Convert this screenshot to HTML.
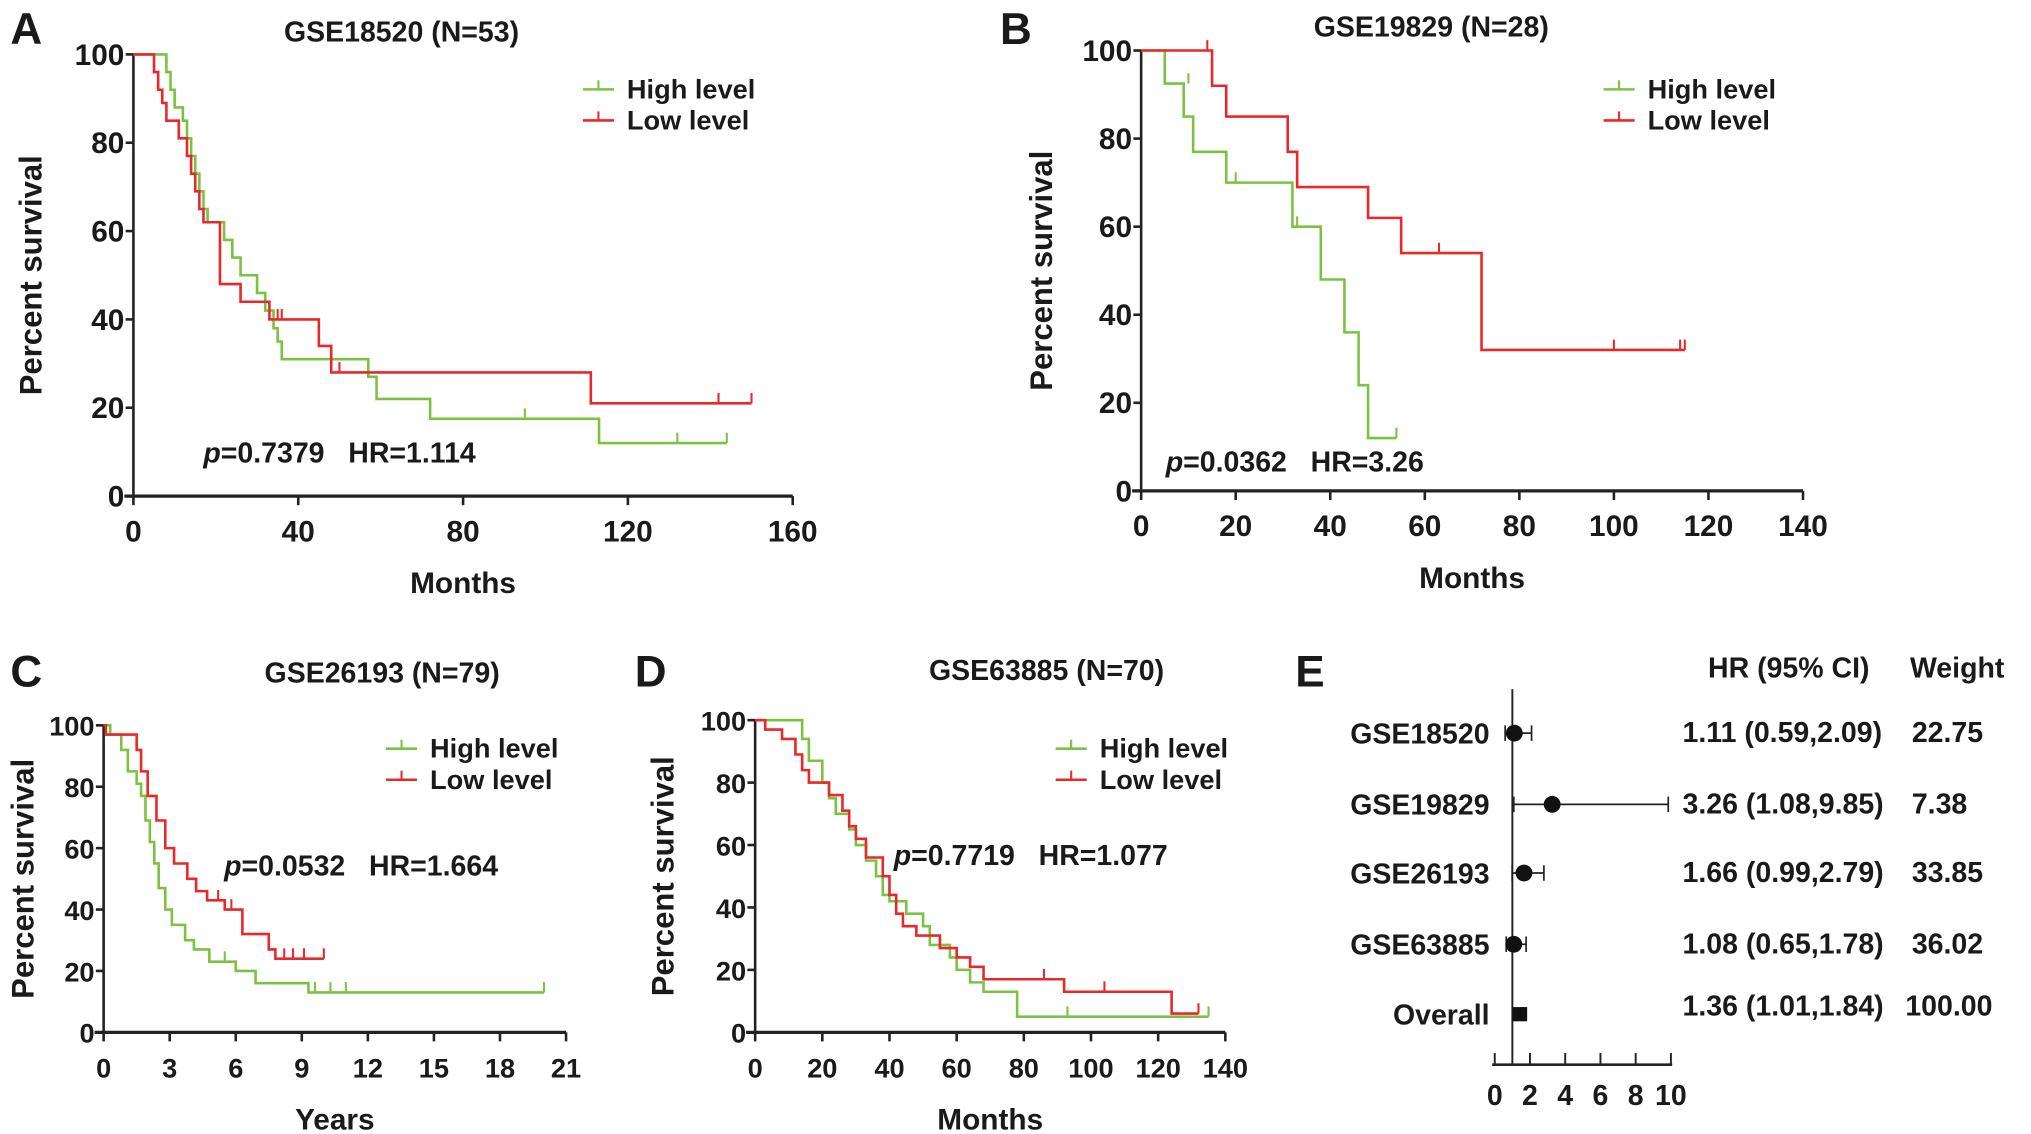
<!DOCTYPE html>
<html><head><meta charset="utf-8"><style>
html,body{margin:0;padding:0;background:#fff}
svg{display:block}
text{font-family:"Liberation Sans",Arial,sans-serif;font-weight:bold;fill:#1a1a1a}
</style></head><body>
<svg id="fig" xmlns="http://www.w3.org/2000/svg" width="2031" height="1134" viewBox="0 0 1568 875.5"></svg>
<script>
// ---- Panel A data (months) ----
const aHighT=[0,8,9,10,12,13,14,15,16,17,18,22,24,26,30,32,34,35,36,57,59,72,113];
const aHighS=[100,96,92,88,85,81,77,73,69,65,62,58,54,50,46,42,38,35,31,27,22,17.5,12];
const aHighCens=[[95,17.5],[132,12],[144,12]];const aHighEnd=144;
const aLowT=[0,5,6,7,8,11,13,14,15,16,17,21,26,33,45,48,111];
const aLowS=[100,96,92,89,85,81,77,73,69,65,62,48,44,40,34,28,21];
const aLowCens=[[35,40],[36,40],[50,28],[142,21],[150,21]];const aLowEnd=150;
// ---- Panel B data ----
const bHighT=[0,5,9,11,18,32,38,43,46,48];
const bHighS=[100,92.5,85,77,70,60,48,36,24,12];
const bHighCens=[[10,92.5],[20,70],[33,60],[54,12]];const bHighEnd=54;
const bLowT=[0,15,18,31,33,48,55,72];
const bLowS=[100,92,85,77,69,62,54,32];
const bLowCens=[[14,100],[63,54],[100,32],[114,32],[115,32]];const bLowEnd=115;
// ---- Panel C data (years) ----
const cHighT=[0,0.3,0.8,1.1,1.5,1.7,1.9,2.1,2.3,2.5,2.8,3.1,3.7,4.1,4.8,6,6.9,9.3];
const cHighS=[100,97,92,85,81,77,69,62,55,47,40,35,30,27,23,20,16,13];
const cHighCens=[[5.5,23],[9.6,13],[10.3,13],[11,13],[20,13]];const cHighEnd=20;
const cLowT=[0,0.1,1.5,1.7,2,2.4,2.8,3.2,3.8,4.2,4.7,5.5,6.3,7.5,7.8];
const cLowS=[100,97,92,85,77,69,60,55,50,46,43,40,32,27,24];
const cLowCens=[[5.2,43],[5.8,40],[8.2,24],[8.6,24],[9.1,24],[10,24]];const cLowEnd=10;
// ---- Panel D data ----
const dHighT=[0,13,14,16,20,22,24,28,30,33,36,38,40,45,50,52,58,60,64,68,78];
const dHighS=[100,100,94,87,80,75,70,65,60,55,50,44,42,38,34,28,24,20,16,13,5];
const dHighCens=[[93,5],[135,5]];const dHighEnd=135;
const dLowT=[0,3,8,12,14,16,22,26,28,30,33,38,40,42,44,48,55,60,64,68,92,124];
const dLowS=[100,97,94,89,84,80,76,71,66,62,56,50,44,38,34,31,27,24,21,17,13,6];
const dLowCens=[[86,17],[104,13],[132,6]];const dLowEnd=132;
// ---- Panel E forest data ----
const fNames=["GSE18520","GSE19829","GSE26193","GSE63885","Overall"];
const fHR=[1.11,3.26,1.66,1.08,1.36];
const fLo=[0.59,1.08,0.99,0.65,1.01];
const fHi=[2.09,9.85,2.79,1.78,1.84];
const fWeight=["22.75","7.38","33.85","36.02","100.00"];
const fTicks=[0,2,4,6,8,10];

const svg=document.getElementById('fig');
const NS="http://www.w3.org/2000/svg";
function mk(tag,attrs,parent){const e=document.createElementNS(NS,tag);for(const k in attrs)e.setAttribute(k,attrs[k]);(parent||svg).appendChild(e);return e;}
function txt(s,x,y,size,anchor,parent){const t=mk('text',{x:x,y:y,'font-size':size,'text-anchor':anchor||'start'},parent);t.textContent=s;return t;}

function panel(cfg){
  const g=mk('g',{});
  
  
  const X=v=>cfg.x0+(v-0)/cfg.xMax*(cfg.x1-cfg.x0);
  const Y=v=>cfg.y0-(v/100)*(cfg.y0-cfg.y100);
  const L=txt(cfg.letter,cfg.letterX,cfg.letterY,34,'start',g);
  
  const T=txt(cfg.title,cfg.titleX,cfg.titleY,22,'middle',g);
  
  const ya=mk('line',{x1:cfg.x0,y1:cfg.y100,x2:cfg.x0,y2:cfg.y0,stroke:'#222','stroke-width':2},g);
  
  const xa=mk('line',{x1:cfg.x0-7,y1:cfg.y0,x2:cfg.x1,y2:cfg.y0,stroke:'#222','stroke-width':2.5},g);
  
  [0,20,40,60,80,100].forEach(v=>{
    mk('line',{x1:cfg.x0-6,y1:Y(v),x2:cfg.x0,y2:Y(v),stroke:'#222','stroke-width':2},g);
    const t=txt(String(v),cfg.x0-7,Y(v)+8,cfg.tickSize,'end',g);
    
  });
  cfg.xticks.forEach(v=>{
    mk('line',{x1:X(v),y1:cfg.y0,x2:X(v),y2:cfg.y0+7,stroke:'#222','stroke-width':2},g);
    const t=txt(String(v),X(v),cfg.y0+35,cfg.tickSize,'middle',g);
    
  });
  const xt=txt(cfg.xlabel,(cfg.x0+cfg.x1)/2,cfg.y0+75,23,'middle',g);
  
  const yt=txt('Percent survival',0,0,24,'middle',g);
  yt.setAttribute('transform','translate('+cfg.ylabX+','+((cfg.y0+cfg.y100)/2)+') rotate(-90)');
  
  cfg.series.forEach(s=>{
    let d='M'+X(s.t[0])+','+Y(s.s[0]);
    for(let i=1;i<s.t.length;i++){d+=' H'+X(s.t[i])+' V'+Y(s.s[i]);}
    d+=' H'+X(s.end);
    const p=mk('path',{d:d,fill:'none',stroke:s.color,'stroke-width':2},g);
    
    s.cens.forEach(c=>{
      const m=mk('line',{x1:X(c[0]),y1:Y(c[1]),x2:X(c[0]),y2:Y(c[1])-8,stroke:s.color,'stroke-width':1.6},g);
      
    });
  });
  cfg.series.forEach((s,i)=>{
    const ly=cfg.legY+i*24;
    const e=mk('g',{},g);
    
    mk('line',{x1:cfg.legX,y1:ly,x2:cfg.legX+24,y2:ly,stroke:s.color,'stroke-width':2},e);
    mk('line',{x1:cfg.legX+12,y1:ly,x2:cfg.legX+12,y2:ly-7,stroke:s.color,'stroke-width':1.6},e);
    txt(s.label,cfg.legX+34,ly+7,21,'start',e);
  });
  const st=mk('text',{x:cfg.pX,y:cfg.pY,'font-size':22},g);
  
  const it=document.createElementNS(NS,'tspan');it.setAttribute('font-style','italic');it.textContent='p';st.appendChild(it);
  const rest=document.createElementNS(NS,'tspan');rest.textContent=cfg.stat;st.appendChild(rest);
}
const G='#7cc242',R='#e8282a';
const SP='\u00a0\u00a0\u00a0';
panel({name:'panel-a',letter:'A',letterX:8,letterY:34,title:'GSE18520 (N=53)',titleX:310,titleY:32,
  x0:103,x1:612,y0:383,y100:42,xMax:160,xticks:[0,40,80,120,160],xlabel:'Months',ylabX:32,tickSize:23,
  legX:450,legY:69,pX:157,pY:357,stat:'=0.7379'+SP+'HR=1.114',
  series:[{name:'high-level',label:'High level',color:G,t:aHighT,s:aHighS,cens:aHighCens,end:aHighEnd},
          {name:'low-level',label:'Low level',color:R,t:aLowT,s:aLowS,cens:aLowCens,end:aLowEnd}]});
panel({name:'panel-b',letter:'B',letterX:772,letterY:34,title:'GSE19829 (N=28)',titleX:1105,titleY:28,
  x0:881,x1:1392,y0:379,y100:39,xMax:140,xticks:[0,20,40,60,80,100,120,140],xlabel:'Months',ylabX:812,tickSize:23,
  legX:1238,legY:69,pX:900,pY:364,stat:'=0.0362'+SP+'HR=3.26',
  series:[{name:'high-level',label:'High level',color:G,t:bHighT,s:bHighS,cens:bHighCens,end:bHighEnd},
          {name:'low-level',label:'Low level',color:R,t:bLowT,s:bLowS,cens:bLowCens,end:bLowEnd}]});
panel({name:'panel-c',letter:'C',letterX:8,letterY:530,title:'GSE26193 (N=79)',titleX:295,titleY:527,
  x0:80,x1:437,y0:797,y100:560,xMax:21,xticks:[0,3,6,9,12,15,18,21],xlabel:'Years',ylabX:26,tickSize:21,
  legX:298,legY:578,pX:173,pY:676,stat:'=0.0532'+SP+'HR=1.664',
  series:[{name:'high-level',label:'High level',color:G,t:cHighT,s:cHighS,cens:cHighCens,end:cHighEnd},
          {name:'low-level',label:'Low level',color:R,t:cLowT,s:cLowS,cens:cLowCens,end:cLowEnd}]});
panel({name:'panel-d',letter:'D',letterX:490,letterY:530,title:'GSE63885 (N=70)',titleX:808,titleY:525,
  x0:583,x1:946,y0:797,y100:556,xMax:140,xticks:[0,20,40,60,80,100,120,140],xlabel:'Months',ylabX:520,tickSize:21,
  legX:815,legY:578,pX:690,pY:668,stat:'=0.7719'+SP+'HR=1.077',
  series:[{name:'high-level',label:'High level',color:G,t:dHighT,s:dHighS,cens:dHighCens,end:dHighEnd},
          {name:'low-level',label:'Low level',color:R,t:dLowT,s:dLowS,cens:dLowCens,end:dLowEnd}]});

(function(){
  const g=mk('g',{});
  
  
  const fx0=1154,fx1=1290,axY=822;
  const FX=v=>fx0+v/10*(fx1-fx0);
  const rowY=[566,621,674,729,783];
  const L=txt('E',1000,530,34,'start',g);
  
  const h1=txt('HR (95% CI)',1381,523,22,'middle',g);
  
  const h2=txt('Weight',1511,523,22,'middle',g);
  
  const ref=mk('line',{x1:FX(1),y1:532,x2:FX(1),y2:axY,stroke:'#222','stroke-width':1.5},g);
  
  const ax=mk('line',{x1:fx0-2,y1:axY,x2:fx1+1,y2:axY,stroke:'#222','stroke-width':2},g);
  
  fTicks.forEach(v=>{
    mk('line',{x1:FX(v),y1:axY,x2:FX(v),y2:axY-9,stroke:'#222','stroke-width':1.5},g);
    const t=txt(String(v),FX(v),axY+31,22,'middle',g);
    
  });
  fNames.forEach((n,i)=>{
    const y=rowY[i];
    const lab=txt(n,1150,y+8,22,'end',g);
    
    if(i<4){
      const ci=mk('line',{x1:FX(fLo[i]),y1:y,x2:FX(fHi[i]),y2:y,stroke:'#222','stroke-width':1.3},g);
      
      mk('line',{x1:FX(fLo[i]),y1:y-6,x2:FX(fLo[i]),y2:y+6,stroke:'#222','stroke-width':1.3},g);
      mk('line',{x1:FX(fHi[i]),y1:y-6,x2:FX(fHi[i]),y2:y+6,stroke:'#222','stroke-width':1.3},g);
      const dot=mk('circle',{cx:FX(fHR[i]),cy:y,r:6.5,fill:'#111'},g);
      
    } else {
      const sq=mk('rect',{x:FX(fLo[i]),y:y-5.5,width:FX(fHi[i])-FX(fLo[i]),height:11,fill:'#111'},g);
      
    }
    const hr=txt(fHR[i].toFixed(2)+' ('+fLo[i].toFixed(2)+','+fHi[i].toFixed(2)+')',1299,y+(i==4?1:7),22,'start',g);
    
    const w=txt(fWeight[i],i==4?1471:1476,y+(i==4?1:7),22,'start',g);
    
  });
})();
</script>
</body></html>
